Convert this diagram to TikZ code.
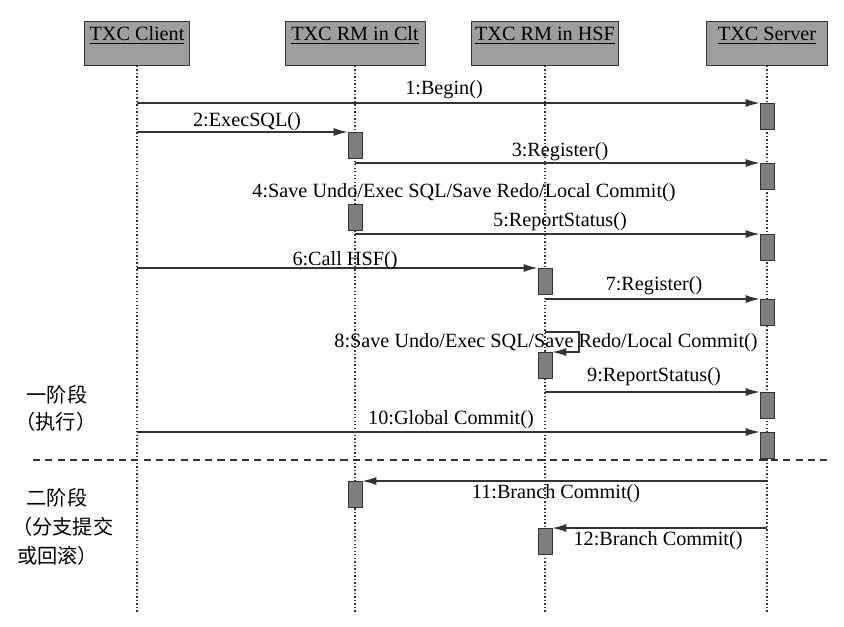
\documentclass[tikz,border=0pt]{standalone}
\usepackage{fontspec}
\setmainfont{Liberation Serif}
\newfontfamily\cjkfont{Noto Sans CJK SC}
\usetikzlibrary{arrows.meta}
\definecolor{boxgray}{HTML}{9E9E9E}
\definecolor{bargray}{HTML}{7E7E7E}
\definecolor{ink}{HTML}{333333}
\tikzset{
  obj/.style={draw=ink, fill=boxgray, anchor=north, inner xsep=2pt, inner ysep=2pt, text height=8.8pt, text depth=12.2pt},
  act/.style={draw=ink, fill=bargray, anchor=north, minimum width=0.28cm, minimum height=0.52cm, inner sep=0pt},
  msg/.style={draw=ink, line width=0.75pt, -{Latex[length=2.8mm,width=1.6mm]}},
  life/.style={draw=ink, line width=0.6pt, dash pattern=on 0.8pt off 1.2pt},
  lbl/.style={inner sep=1pt},
  phase/.style={font=\cjkfont\fontsize{11.5}{13}\selectfont, inner sep=0pt}
}
\begin{document}
\begin{tikzpicture}[x=0.02cm,y=-0.02cm,font=\fontsize{11.5}{13}\selectfont]
\useasboundingbox (0,0) rectangle (844,626);
% objects
\node [obj,minimum width=2.1cm] (client) at (137,21) {\underline{TXC Client}};
\node [obj,minimum width=2.8cm] (clt) at (355,21) {\underline{TXC RM in Clt}};
\node [obj,minimum width=2.94cm] (hsf) at (545,21) {\underline{TXC RM in HSF}};
\node [obj,minimum width=2.42cm] (server) at (767,21) {\underline{TXC Server}};
\coordinate (bottom) at (0,613);
\foreach \o in {client,clt,hsf,server}
  \draw [life] (\o.south) -- (\o.south |- bottom);
% activations
\node [act] (s1) at (767,103) {};
\node [act] (c1) at (355,132) {};
\node [act] (s2) at (767,163) {};
\node [act] (c2) at (355,204) {};
\node [act] (s3) at (767,234) {};
\node [act] (h1) at (545,268) {};
\node [act] (s4) at (767,299) {};
\node [act] (h2) at (545,352) {};
\node [act] (s5) at (767,392) {};
\node [act] (s6) at (767,432) {};
\node [act] (c3) at (355,481) {};
\node [act] (h3) at (545,528) {};
% messages
\draw [msg] (client |- s1.north) -- (s1.north west);
\draw [msg] (client |- c1.north) -- (c1.north west);
\draw [msg] (clt |- s2.north) -- (s2.north west);
\draw [msg] (clt |- s3.north) -- (s3.north west);
\draw [msg] (client |- h1.north) -- (h1.north west);
\draw [msg] (hsf |- s4.north) -- (s4.north west);
\coordinate (loop) at (579,332);
\draw [msg] (hsf |- loop) -- (loop) |- (h2.north east);
\draw [msg] (hsf |- s5.north) -- (s5.north west);
\draw [msg] (client |- s6.north) -- (s6.north west);
\draw [msg] (server |- c3.north) -- (c3.north east);
\draw [msg] (server |- h3.north) -- (h3.north east);
% labels
\node [lbl] (m1) at (444,90) {1:Begin()};
\node [lbl] (m2) at (247,122) {2:ExecSQL()};
\node [lbl] (m3) at (560,152) {3:Register()};
\node [lbl] (m4) at (464,193) {4:Save Undo/Exec SQL/Save Redo/Local Commit()};
\node [lbl] (m5) at (560,222) {5:ReportStatus()};
\node [lbl] (m6) at (345,261) {6:Call HSF()};
\node [lbl] (m7) at (654,286) {7:Register()};
\node [lbl] (m8) at (546,343) {8:Save Undo/Exec SQL/Save Redo/Local Commit()};
\node [lbl] (m9) at (654,377) {9:ReportStatus()};
\node [lbl] (m10) at (451,420) {10:Global Commit()};
\node [lbl] (m11) at (556,494) {11:Branch Commit()};
\node [lbl] (m12) at (658,541) {12:Branch Commit()};
% phases
\coordinate (sepL) at (33,460);
\coordinate (sepR) at (830,460);
\draw [ink, line width=0.7pt, dash pattern=on 4pt off 3pt] (sepL) -- (sepR);
\node [phase] (p1) at (57,395) {一阶段};
\node [phase] (p1b) at (56,422) {（执行）};
\node [phase] (p2) at (57,498) {二阶段};
\node [phase,anchor=west] (p2b) at (12,527) {（分支提交};
\node [phase,anchor=west] (p2c) at (17,556) {或回滚）};
\end{tikzpicture}
\end{document}
